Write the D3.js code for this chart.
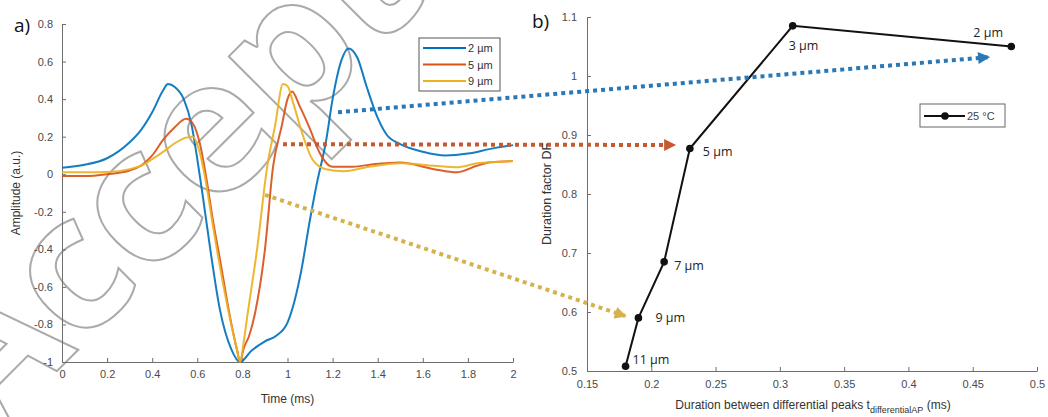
<!DOCTYPE html>
<html>
<head>
<meta charset="utf-8">
<script src="https://cdn.jsdelivr.net/npm/d3@7"></script>
<style>
  body { margin: 0; background: #fff; }
  svg { display: block; font-family: "Liberation Sans", Arial, sans-serif; }
  .axis path, .axis line { stroke: #6e6e6e; }
  .axis text { fill: #4a4a4a; font-size: 11px; }
</style>
</head>
<body>
<script>
// Panel a) – amplitude traces, time in ms
const t2 = [0, 0.1, 0.2, 0.3, 0.35, 0.4, 0.45, 0.47, 0.5, 0.54, 0.575, 0.6, 0.62, 0.66, 0.7, 0.75, 0.79, 0.84, 0.9, 0.95, 1.0, 1.03, 1.06, 1.1, 1.13, 1.17, 1.2, 1.24, 1.27, 1.31, 1.35, 1.4, 1.44, 1.5, 1.6, 1.7, 1.8, 1.9, 2.0];
const a2 = [0.035, 0.05, 0.085, 0.17, 0.235, 0.33, 0.45, 0.48, 0.465, 0.4, 0.26, 0.08, -0.08, -0.42, -0.72, -0.93, -1.0, -0.94, -0.89, -0.86, -0.79, -0.68, -0.52, -0.24, -0.05, 0.17, 0.4, 0.61, 0.67, 0.62, 0.47, 0.3, 0.21, 0.16, 0.12, 0.1, 0.11, 0.135, 0.155];

const t5 = [0, 0.1, 0.2, 0.3, 0.35, 0.4, 0.45, 0.5, 0.55, 0.58, 0.61, 0.64, 0.67, 0.7, 0.745, 0.775, 0.79, 0.805, 0.83, 0.856, 0.9, 0.936, 0.975, 1.0, 1.02, 1.055, 1.1, 1.14, 1.2, 1.29, 1.38, 1.5, 1.65, 1.75, 1.84, 1.9, 2.0];
const a5 = [-0.01, -0.01, 0.0, 0.02, 0.045, 0.1, 0.185, 0.25, 0.295, 0.27, 0.17, -0.02, -0.25, -0.45, -0.76, -0.93, -1.0, -0.93, -0.86, -0.74, -0.4, 0.04, 0.26, 0.4, 0.44, 0.36, 0.24, 0.12, 0.04, 0.04, 0.053, 0.062, 0.027, 0.01, 0.045, 0.064, 0.07];

const t9 = [0, 0.1, 0.2, 0.3, 0.35, 0.4, 0.45, 0.5, 0.55, 0.58, 0.61, 0.635, 0.67, 0.72, 0.775, 0.79, 0.805, 0.82, 0.865, 0.91, 0.945, 0.98, 1.0, 1.025, 1.07, 1.11, 1.17, 1.25, 1.35, 1.5, 1.65, 1.75, 1.84, 2.0];
const a9 = [0.01, 0.01, 0.012, 0.027, 0.045, 0.08, 0.12, 0.165, 0.195, 0.2, 0.12, -0.02, -0.28, -0.62, -0.93, -1.0, -0.9, -0.77, -0.4, 0.04, 0.26, 0.48, 0.47, 0.38, 0.2, 0.08, 0.027, 0.016, 0.037, 0.058, 0.045, 0.037, 0.058, 0.07];

const traceNames = ['2 µm', '5 µm', '9 µm'];
const traceColors = ['#0072BD', '#D95319', '#EDB120'];

// Panel b) – duration factor vs peak distance
const sizes = ['2 µm', '3 µm', '5 µm', '7 µm', '9 µm', '11 µm'];
const tDiff = [0.48, 0.31, 0.23, 0.21, 0.19, 0.18];
const durFactor = [1.05, 1.085, 0.877, 0.685, 0.59, 0.508];

const ticksAx = [0, 0.2, 0.4, 0.6, 0.8, 1, 1.2, 1.4, 1.6, 1.8, 2];
const ticksAy = [-1, -0.8, -0.6, -0.4, -0.2, 0, 0.2, 0.4, 0.6, 0.8];
const ticksBx = [0.15, 0.2, 0.25, 0.3, 0.35, 0.4, 0.45, 0.5];
const ticksBy = [0.5, 0.6, 0.7, 0.8, 0.9, 1, 1.1];

// arrows: start in panel a (t, amplitude), end in panel b (tDiff, DF)
const arrowStart = [[1.224, 0.33], [0.98, 0.16], [0.9, -0.11]];
const arrowEnd = [[0.4626, 1.032], [0.2184, 0.883], [0.18, 0.593]];
const arrowColors = ['#2a78b5', '#c45a30', '#d6b24e'];

const width = 1048;
const height = 417;

const svg = d3.select('body').append('svg')
    .attr('width', width)
    .attr('height', height);

// watermark (outlined letters) sits behind everything
svg.append('text')
    .attr('transform', 'translate(-12,440) rotate(-45)')
    .style('font-family', '"Open Sans", sans-serif')
    .style('font-weight', 'bold')
    .style('font-size', '185px')
    .style('fill', 'none')
    .style('stroke', '#aaaaaa')
    .style('stroke-width', 2)
    .text('Accepted');

// scales
const xA = d3.scaleLinear().domain([0, 2]).range([62, 513]);
const yA = d3.scaleLinear().domain([-1, 0.8]).range([362, 24]);
const xB = d3.scaleLinear().domain([0.15, 0.5]).range([587, 1037]);
const yB = d3.scaleLinear().domain([0.5, 1.1]).range([371, 17]);

// axes panel a
svg.append('g').attr('class', 'axis')
    .attr('transform', `translate(0,${yA(-1)})`)
    .call(d3.axisBottom(xA).tickValues(ticksAx).tickFormat(d => String(d))
      .tickSizeInner(-4).tickSizeOuter(0).tickPadding(8));
svg.append('g').attr('class', 'axis')
    .attr('transform', `translate(${xA(0)},0)`)
    .call(d3.axisLeft(yA).tickValues(ticksAy).tickFormat(d => String(d))
      .tickSizeInner(-4).tickSizeOuter(0).tickPadding(9));

// axes panel b
svg.append('g').attr('class', 'axis')
    .attr('transform', `translate(0,${yB(0.5)})`)
    .call(d3.axisBottom(xB).tickValues(ticksBx).tickFormat(d => String(d))
      .tickSizeInner(-4).tickSizeOuter(0).tickPadding(9));
svg.append('g').attr('class', 'axis')
    .attr('transform', `translate(${xB(0.15)},0)`)
    .call(d3.axisLeft(yB).tickValues(ticksBy).tickFormat(d => String(d))
      .tickSizeInner(-4).tickSizeOuter(0).tickPadding(10));

// traces
const traces = [d3.zip(t2, a2), d3.zip(t5, a5), d3.zip(t9, a9)];
const traceLine = d3.line()
    .x(d => xA(d[0]))
    .y(d => yA(d[1]))
    .curve(d3.curveMonotoneX);

svg.append('g').selectAll('path')
    .data(traces)
  .enter().append('path')
    .attr('d', traceLine)
    .attr('fill', 'none')
    .attr('stroke', (d, i) => traceColors[i])
    .attr('stroke-width', 2)
    .attr('stroke-opacity', 0.92);

// legend panel a
const legA = svg.append('g').attr('transform', 'translate(419,38)');
legA.append('rect')
    .attr('width', 81).attr('height', 53)
    .attr('fill', '#fff').attr('stroke', '#555').attr('stroke-width', 1);
traceNames.forEach((name, i) => {
  const y = 10 + i * 16.5;
  legA.append('line')
      .attr('x1', 4).attr('x2', 47).attr('y1', y).attr('y2', y)
      .attr('stroke', traceColors[i]).attr('stroke-width', 2);
  legA.append('text')
      .attr('x', 49).attr('y', y + 4)
      .style('font-size', '11px').style('fill', '#333')
      .text(name);
});

// panel b line + markers
const pts = d3.zip(tDiff, durFactor);
svg.append('path')
    .datum(pts)
    .attr('d', d3.line().x(d => xB(d[0])).y(d => yB(d[1])))
    .attr('fill', 'none')
    .attr('stroke', '#111')
    .attr('stroke-width', 2);
svg.append('g').selectAll('circle')
    .data(pts)
  .enter().append('circle')
    .attr('cx', d => xB(d[0]))
    .attr('cy', d => yB(d[1]))
    .attr('r', 3.8)
    .attr('fill', '#111');

const labelOff = [[-38, -10], [-4, 24], [13, 7], [10, 8], [17, 4], [7, -2]];
svg.append('g').selectAll('text')
    .data(sizes)
  .enter().append('text')
    .attr('x', (d, i) => xB(tDiff[i]) + labelOff[i][0])
    .attr('y', (d, i) => yB(durFactor[i]) + labelOff[i][1])
    .style('font-family', '"Open Sans", sans-serif')
    .style('font-size', '12.5px')
    .style('fill', '#222')
    .text(d => d);

// legend panel b
const legB = svg.append('g').attr('transform', 'translate(920,104)');
legB.append('rect')
    .attr('width', 85).attr('height', 23)
    .attr('fill', '#fff').attr('stroke', '#666').attr('stroke-width', 1);
legB.append('line')
    .attr('x1', 4).attr('x2', 45).attr('y1', 12).attr('y2', 12)
    .attr('stroke', '#111').attr('stroke-width', 2);
legB.append('circle').attr('cx', 25).attr('cy', 12).attr('r', 3.8).attr('fill', '#111');
legB.append('text')
    .attr('x', 47).attr('y', 16)
    .style('font-size', '11px').style('fill', '#444')
    .text('25 °C');

// dotted arrows across both panels
const defs = svg.append('defs');
arrowColors.forEach((c, i) => {
  defs.append('marker')
      .attr('id', 'head' + i)
      .attr('viewBox', '0 0 10 10')
      .attr('refX', 9).attr('refY', 5)
      .attr('markerUnits', 'userSpaceOnUse')
      .attr('markerWidth', 13).attr('markerHeight', 12)
      .attr('orient', 'auto')
    .append('path')
      .attr('d', 'M0,0L10,5L0,10Z')
      .attr('fill', c);
});
arrowStart.forEach((s, i) => {
  svg.append('line')
      .attr('x1', xA(s[0])).attr('y1', yA(s[1]))
      .attr('x2', xB(arrowEnd[i][0])).attr('y2', yB(arrowEnd[i][1]))
      .attr('stroke', arrowColors[i])
      .attr('stroke-width', 4)
      .attr('stroke-dasharray', '4 4')
      .attr('marker-end', `url(#head${i})`);
});

// titles
svg.append('text')
    .attr('transform', `translate(20,${(yA(-1) + yA(0.8)) / 2}) rotate(-90)`)
    .attr('text-anchor', 'middle')
    .style('font-size', '12px').style('fill', '#333')
    .text('Amplitude (a.u.)');
svg.append('text')
    .attr('x', xA(1)).attr('y', 403)
    .attr('text-anchor', 'middle')
    .style('font-size', '12px').style('fill', '#333')
    .text('Time (ms)');
svg.append('text')
    .attr('transform', `translate(551,${(yB(0.5) + yB(1.1)) / 2}) rotate(-90)`)
    .attr('text-anchor', 'middle')
    .style('font-size', '12.5px').style('fill', '#333')
    .text('Duration factor DF');
const xt = svg.append('text')
    .attr('x', (xB(0.15) + xB(0.5)) / 2 + 1).attr('y', 409)
    .attr('text-anchor', 'middle')
    .style('font-size', '12px').style('fill', '#333');
xt.append('tspan').text('Duration between differential peaks t');
xt.append('tspan').attr('dy', 4).style('font-size', '9px').text('differentialAP');
xt.append('tspan').attr('dy', -4).text(' (ms)');

// panel letters
svg.append('text').attr('x', 14).attr('y', 32)
    .style('font-family', '"Open Sans", sans-serif').style('font-size', '19px').style('fill', '#111')
    .text('a)');
svg.append('text').attr('x', 532).attr('y', 28)
    .style('font-family', '"Open Sans", sans-serif').style('font-size', '19px').style('fill', '#111')
    .text('b)');
</script>
</body>
</html>
